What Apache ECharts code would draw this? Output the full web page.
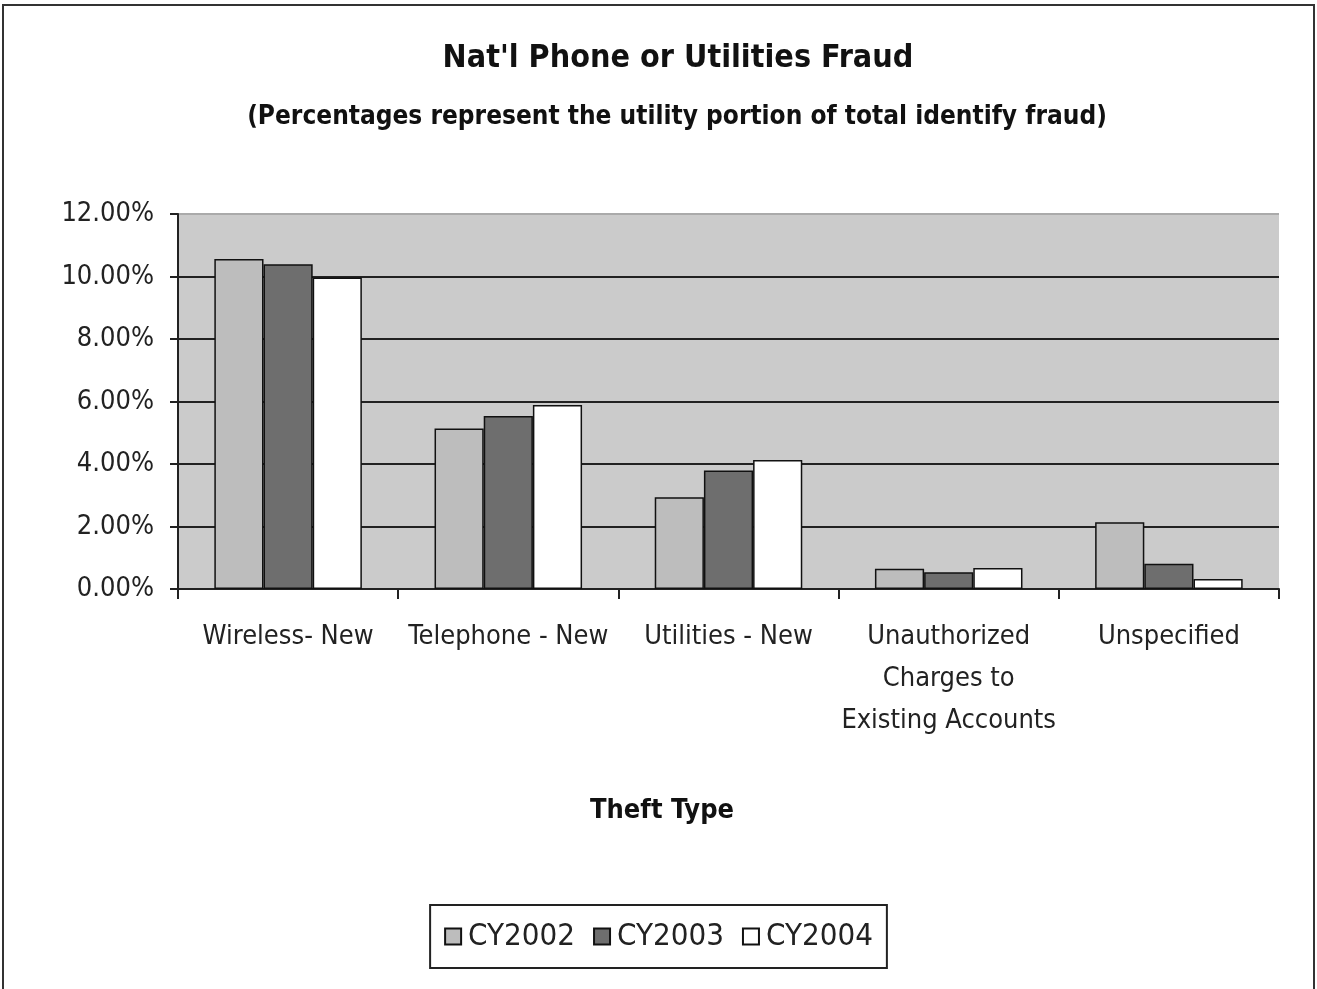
<!DOCTYPE html>
<html>
<head>
<meta charset="utf-8">
<script src="https://cdn.jsdelivr.net/npm/echarts@6/dist/echarts.min.js"></script>
<style>
html,body{margin:0;padding:0;background:#fff;}
#c{width:1317px;height:989px;}
</style>
</head>
<body>
<div id="c"></div>
<script>
const categories = ['Wireless- New', 'Telephone - New', 'Utilities - New', 'Unauthorized\nCharges to\nExisting Accounts', 'Unspecified'];
const seriesNames = ['CY2002', 'CY2003', 'CY2004'];
const cy2002 = [10.56, 5.14, 2.94, 0.65, 2.14];
const cy2003 = [10.39, 5.54, 3.79, 0.54, 0.81];
const cy2004 = [9.97, 5.89, 4.13, 0.67, 0.32];
const titleText = "Nat'l Phone or Utilities Fraud";
const subtitleText = '(Percentages represent the utility portion of total identify fraud)';
const xAxisTitle = 'Theft Type';

const FONT = "'Liberation Sans Narrow', 'Arial Narrow', 'DejaVu Sans Condensed', sans-serif";
const colors = ['#bdbdbd', '#6e6e6e', '#ffffff'];
const values = [cy2002, cy2003, cy2004];

const chart = echarts.init(document.getElementById('c'));
chart.setOption({
  animation: false,
  backgroundColor: '#ffffff',
  textStyle: { fontFamily: FONT },
  title: [
    { text: titleText, left: 673, top: 38, textAlign: 'center',
      textStyle: { fontFamily: FONT, fontSize: 32, fontWeight: 'bold', color: '#111' } },
    { text: subtitleText, left: 672, top: 99, textAlign: 'center',
      textStyle: { fontFamily: FONT, fontSize: 26, fontWeight: 'bold', color: '#111' } },
    { text: xAxisTitle, left: 657, top: 792, textAlign: 'center',
      textStyle: { fontFamily: FONT, fontSize: 27, fontWeight: 'bold', color: '#111' } }
  ],
  legend: {
    data: seriesNames,
    icon: 'rect',
    left: 'center', top: 905,
    itemWidth: 16, itemHeight: 16, itemGap: 18,
    padding: [16, 14],
    borderColor: '#222', borderWidth: 2,
    backgroundColor: '#fff',
    textStyle: { fontFamily: FONT, fontSize: 31, color: '#222', padding: [0,0,0,2] }
  },
  grid: {
    left: 178, right: 38, top: 214, bottom: 400,
    show: true, backgroundColor: '#cbcbcb', borderWidth: 0
  },
  xAxis: {
    type: 'category',
    data: categories,
    axisLine: { show: true, lineStyle: { color: '#222', width: 2 } },
    axisTick: { show: true, length: 10, lineStyle: { color: '#222', width: 2 } },
    axisLabel: { fontFamily: FONT, fontSize: 27, color: '#222', lineHeight: 42, margin: 27, interval: 0 }
  },
  yAxis: {
    type: 'value',
    min: 0, max: 12, interval: 2,
    axisLine: { show: true, lineStyle: { color: '#222', width: 2 } },
    axisTick: { show: true, length: 8, lineStyle: { color: '#222', width: 2 } },
    axisLabel: { fontFamily: FONT, fontSize: 27, color: '#222', margin: 24,
      formatter: v => v.toFixed(2) + '%' },
    splitLine: { show: true, lineStyle: { color: ['#222','#222','#222','#222','#222','#222','#aaa'], width: 2 } }
  },
  series: seriesNames.map((n, i) => ({
    name: n,
    type: 'bar',
    data: values[i],
    barGap: '0%',
    barCategoryGap: '33%',
    itemStyle: { color: colors[i], borderColor: '#111', borderWidth: 1.5 }
  })),
  graphic: [
    { type: 'rect', shape: { x: 3, y: 5, width: 1311, height: 1000 },
      style: { fill: null, stroke: '#333', lineWidth: 2 }, silent: true, z: 100 }
  ]
});
</script>
</body>
</html>
